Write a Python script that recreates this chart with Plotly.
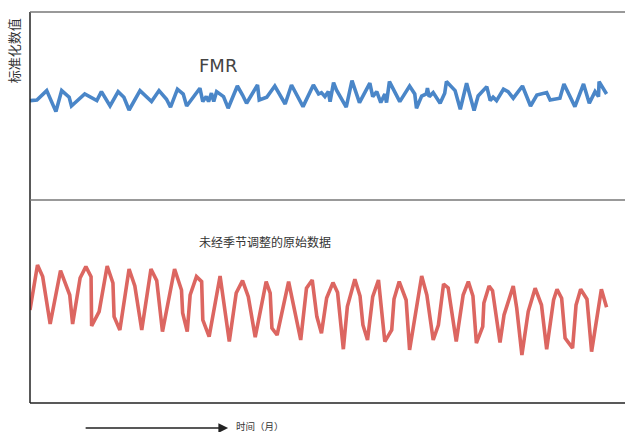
import plotly.graph_objects as go
from plotly.subplots import make_subplots

# ---- data ----
fmr_t = [0.0, 1.2, 2.9, 4.5, 5.5, 6.8, 7.2, 9.5, 11.6, 12.4, 13.9, 15.3, 16.3, 17.2, 19.1,
         21.1, 22.4, 23.7, 24.4, 25.6, 26.6, 27.2, 29.5, 30.0, 30.6, 31.0, 31.5, 31.9, 32.4,
         33.6, 34.4, 36.0, 36.9, 37.6, 39.5, 39.8, 41.1, 42.5, 44.3, 45.4, 47.4, 49.2, 50.1,
         50.6, 51.2, 51.8, 52.1, 52.7, 53.2, 54.9, 55.9, 57.2, 59.0, 59.5, 60.2, 60.9, 61.6,
         61.9, 62.4, 64.2, 65.9, 66.8, 67.1, 68.0, 68.8, 69.0, 69.3, 70.0, 71.2, 72.0, 72.3,
         73.8, 74.7, 75.8, 77.1, 77.8, 79.3, 79.9, 80.4, 81.0, 82.2, 83.0, 83.9, 85.5, 86.9,
         88.0, 89.7, 90.3, 92.0, 92.7, 94.6, 96.1, 97.1, 98.1, 98.7, 98.8, 100.1]
fmr_v = [4.97, 5.00, 5.47, 4.42, 5.47, 5.14, 4.70, 5.30, 4.97, 5.42, 4.70, 5.42, 5.14, 4.50, 5.47,
         4.92, 5.47, 5.04, 4.64, 5.54, 5.30, 4.70, 5.59, 4.92, 5.17, 4.92, 5.34, 4.92, 5.42,
         5.17, 4.59, 5.70, 5.25, 4.84, 5.75, 5.00, 5.14, 5.70, 4.80, 5.75, 4.67, 5.75, 5.30,
         5.37, 5.17, 5.42, 4.92, 5.87, 5.50, 4.64, 5.97, 4.87, 5.84, 5.17, 5.42, 4.87, 5.30,
         4.87, 5.92, 4.92, 5.70, 5.30, 4.59, 5.20, 5.30, 5.59, 5.17, 5.37, 4.84, 5.34, 5.92,
         5.47, 4.54, 5.84, 4.47, 5.20, 5.67, 4.97, 5.14, 4.97, 5.54, 5.42, 5.09, 5.70, 4.70,
         5.25, 5.37, 5.00, 5.09, 5.80, 4.67, 5.80, 4.84, 5.42, 5.17, 5.92, 5.30]

raw_t = [0.0, 1.3, 2.2, 3.5, 5.3, 6.9, 7.4, 8.7, 9.7, 10.6, 10.7, 12.0, 13.4, 14.4, 14.6, 15.6,
         17.2, 18.2, 19.4, 21.0, 22.0, 23.0, 25.1, 26.3, 26.5, 27.3, 27.8, 28.9, 29.8, 30.0,
         31.1, 33.0, 34.6, 35.8, 36.9, 37.9, 39.1, 40.1, 41.0, 41.7, 42.0, 42.9, 44.0, 44.9,
         45.8, 47.0, 48.0, 49.0, 49.8, 50.6, 51.5, 52.6, 53.4, 54.4, 55.1, 56.4, 57.3, 57.8,
         58.6, 59.5, 60.5, 61.6, 62.8, 63.2, 64.1, 65.3, 65.9, 68.0, 68.9, 70.0, 70.9, 71.8,
         72.6, 74.0, 75.2, 76.1, 76.9, 77.5, 78.6, 78.8, 79.7, 80.3, 81.6, 82.3, 83.9, 84.5,
         85.4, 86.5, 87.7, 88.8, 89.7, 90.9, 91.5, 92.3, 92.9, 94.2, 94.8, 95.6, 96.7, 97.5,
         99.2, 100.1]
raw_v = [4.65, 6.90, 6.32, 3.95, 6.62, 5.40, 3.95, 6.25, 6.82, 6.32, 3.85, 4.57, 6.85, 6.00, 4.32, 3.65,
         6.70, 5.85, 3.65, 6.70, 6.12, 3.57, 6.70, 5.65, 4.50, 3.57, 5.40, 6.32, 6.07, 4.15,
         3.32, 6.35, 3.07, 5.50, 6.12, 5.32, 3.29, 4.65, 6.07, 5.49, 3.74, 3.40, 4.82, 6.07,
         4.82, 3.15, 5.74, 6.15, 4.32, 3.49, 5.25, 6.02, 5.52, 2.69, 4.82, 6.19, 5.35, 3.90,
         3.15, 5.32, 6.15, 3.07, 3.65, 5.20, 6.07, 5.15, 2.65, 6.35, 5.40, 3.15, 3.90, 5.95,
         5.75, 3.07, 5.40, 6.07, 5.35, 2.99, 3.82, 5.00, 5.85, 5.62, 3.02, 4.40, 5.85, 4.75,
         2.40, 4.57, 5.74, 4.90, 2.69, 5.15, 5.69, 5.24, 3.24, 2.74, 4.90, 5.69, 5.19, 2.57,
         5.69, 4.79]

label_top = "FMR"
label_bottom = "未经季节调整的原始数据"
y_title = "标准化数值"
x_title = "时间（月）"

# ---- figure ----
split = 203 / 391
fig = make_subplots(rows=2, cols=1, shared_xaxes=True, vertical_spacing=0)
fig.add_trace(go.Scatter(x=fmr_t, y=fmr_v, mode="lines",
                         line=dict(color="#4a86c8", width=3.6), showlegend=False), row=1, col=1)
fig.add_trace(go.Scatter(x=raw_t, y=raw_v, mode="lines",
                         line=dict(color="#dc6661", width=3.6), showlegend=False), row=2, col=1)

ax_common = dict(showline=False, showticklabels=False, showgrid=False, zeroline=False, ticks="")
fig.update_xaxes(range=[0, 103.3], **ax_common)
fig.update_yaxes(**ax_common)
fig.update_layout(
    yaxis=dict(domain=[split, 1], range=[0, 9.4]),
    yaxis2=dict(domain=[0, split], range=[0, 10.15]),
    width=625, height=432,
    margin=dict(l=30, r=0, t=12, b=29),
    paper_bgcolor="white", plot_bgcolor="white",
    font=dict(family="DejaVu Sans, Noto Sans CJK SC", color="#333"),
)

# spines
fig.add_shape(type="line", xref="paper", yref="paper", x0=0, x1=0, y0=0, y1=1,
              line=dict(color="#222", width=1.5))
fig.add_shape(type="line", xref="paper", yref="paper", x0=0, x1=1, y0=0, y1=0,
              line=dict(color="#222", width=1.5))
fig.add_shape(type="line", xref="paper", yref="paper", x0=0, x1=1, y0=1, y1=1,
              line=dict(color="#777", width=1.5))
fig.add_shape(type="line", xref="paper", yref="paper", x0=0, x1=1, y0=split, y1=split,
              line=dict(color="#777", width=1.5))

# labels
fig.add_annotation(xref="paper", yref="paper", x=0.316, y=0.862, text=label_top,
                   xanchor="center", yanchor="middle",
                   showarrow=False, font=dict(size=18, color="#444", family="DejaVu Sans"))
fig.add_annotation(xref="paper", yref="paper", x=0.395, y=0.412, text=label_bottom,
                   xanchor="center", yanchor="middle",
                   showarrow=False, font=dict(size=12, color="#333", family="Noto Sans CJK SC"))
fig.add_annotation(xref="paper", yref="paper", x=-0.0285, y=0.90, text=y_title, textangle=-90,
                   xanchor="center", yanchor="middle",
                   showarrow=False, font=dict(size=13, color="#333", family="Noto Sans CJK SC"))
fig.add_annotation(xref="paper", yref="paper", x=0.3865, y=-0.0588, text=x_title,
                   xanchor="center", yanchor="middle",
                   showarrow=False, font=dict(size=9.5, color="#333", family="Noto Sans CJK SC"))
fig.add_annotation(xref="paper", yref="paper", x=0.333, y=-0.064, text=" ",
                   showarrow=True, ax=-146, ay=0, axref="pixel", ayref="pixel",
                   standoff=0, startstandoff=0,
                   arrowhead=2, arrowsize=1.5, arrowwidth=1.3, arrowcolor="#222")

fig.write_html("out.html", config={"displayModeBar": False},
               post_script="document.body.style.margin='0';")
